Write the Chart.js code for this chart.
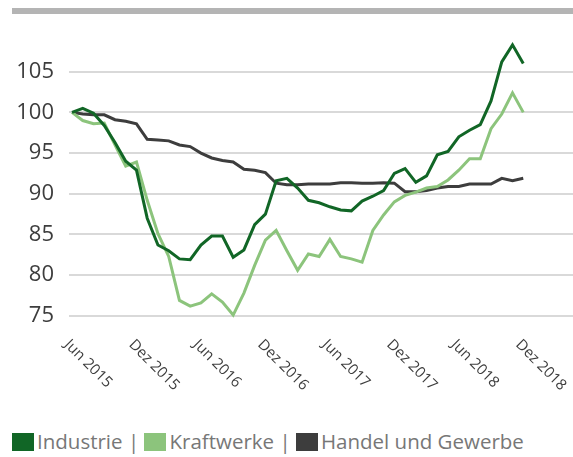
<!DOCTYPE html>
<html>
<head>
<meta charset="utf-8">
<script src="https://cdn.jsdelivr.net/npm/chart.js@4"></script>
<style>
  body { margin: 0; background: #fff; font-family: "Open Sans", sans-serif; }
  #wrap { position: relative; width: 573px; height: 457px; }
  #balken { position: absolute; left: 12px; top: 8px; width: 561px; height: 6px; background: #b4b4b4; }
  #myChart { position: absolute; left: 0; top: 0; }
  #legende { position: absolute; left: 12px; top: 427px; font-size: 20.5px; color: #777; white-space: nowrap; }
  #legende .box { display: inline-block; width: 22px; height: 18px; vertical-align: -2px; margin-right: 3px; }
</style>
</head>
<body>
<div id="wrap">
  <canvas id="myChart" width="573" height="410"></canvas>
  <div id="balken"></div>
  <div id="legende"></div>
</div>
<script>
// Monate Jun 2015 .. Dez 2018 (Index 0..42)
const tickLabels = ["Jun 2015", "Dez 2015", "Jun 2016", "Dez 2016", "Jun 2017", "Dez 2017", "Jun 2018", "Dez 2018"];
const tickMonate = [0, 6, 12, 18, 24, 30, 36, 42];
const yTicks = [75, 80, 85, 90, 95, 100, 105];

const industrie = [100, 100.5, 99.9, 98.4, 96.3, 94.0, 92.9, 87.0, 83.7, 83.0, 82.0, 81.9, 83.7, 84.8, 84.8, 82.2, 83.1, 86.2, 87.5, 91.6, 91.9, 90.7, 89.2, 88.9, 88.4, 88.0, 87.9, 89.1, 89.7, 90.4, 92.5, 93.1, 91.4, 92.2, 94.8, 95.2, 97.0, 97.8, 98.5, 101.4, 106.2, 108.3, 106.0];
const kraftwerke = [100, 99.0, 98.6, 98.7, 96.0, 93.4, 93.9, 89.2, 85.1, 82.3, 76.9, 76.2, 76.6, 77.7, 76.7, 75.1, 77.8, 81.2, 84.3, 85.5, 83.0, 80.6, 82.6, 82.3, 84.4, 82.3, 82.0, 81.6, 85.5, 87.4, 89.0, 89.8, 90.2, 90.7, 90.9, 91.7, 92.9, 94.3, 94.3, 98.0, 99.8, 102.4, 100.0];
const handel = [100, 99.8, 99.7, 99.7, 99.1, 98.9, 98.6, 96.7, 96.6, 96.5, 96.0, 95.8, 95.0, 94.4, 94.1, 93.9, 93.0, 92.9, 92.6, 91.3, 91.1, 91.1, 91.2, 91.2, 91.2, 91.35, 91.35, 91.3, 91.3, 91.35, 91.3, 90.25, 90.25, 90.4, 90.7, 90.9, 90.9, 91.2, 91.2, 91.2, 91.9, 91.6, 91.9];

const serienNamen = ["Industrie", "Kraftwerke", "Handel und Gewerbe"];
const farben = ["#116626", "#8cc47c", "#3d3d3d"];

Chart.defaults.font.family = '"Open Sans", sans-serif';

const ctx = document.getElementById("myChart");

function punkte(werte) {
  return werte.map((wert, i) => ({ x: i, y: wert }));
}

// x-Beschriftung schraeg nach rechts unten
const xLabelsPlugin = {
  id: "xLabels",
  afterDraw(chart) {
    const c = chart.ctx;
    const xs = chart.scales.x;
    c.save();
    c.font = '15px "Open Sans"';
    c.fillStyle = "#3d3d3d";
    c.textAlign = "left";
    c.textBaseline = "top";
    tickMonate.forEach((m, k) => {
      c.save();
      c.translate(xs.getPixelForValue(m), chart.chartArea.bottom + 13);
      c.rotate(Math.PI / 4);
      c.fillText(tickLabels[k], 0, 0);
      c.restore();
    });
    c.restore();
  },
};

new Chart(ctx, {
  type: "line",
  data: {
    datasets: [
      { label: serienNamen[0], data: punkte(industrie), borderColor: farben[0], backgroundColor: farben[0], borderWidth: 3, pointRadius: 0 },
      { label: serienNamen[1], data: punkte(kraftwerke), borderColor: farben[1], backgroundColor: farben[1], borderWidth: 3, pointRadius: 0 },
      { label: serienNamen[2], data: punkte(handel), borderColor: farben[2], backgroundColor: farben[2], borderWidth: 3, pointRadius: 0 },
    ],
  },
  options: {
    responsive: false,
    animation: false,
    devicePixelRatio: 1,
    layout: { padding: { top: 31, bottom: 86, left: 0, right: 0 } },
    plugins: { legend: { display: false }, tooltip: { enabled: false } },
    scales: {
      x: {
        type: "linear",
        min: -0.28,
        max: 46.63,
        display: false,
      },
      y: {
        min: 74,
        max: 110,
        afterFit: (scale) => { scale.width = 69; },
        afterBuildTicks: (scale) => {
          scale.ticks = yTicks.map((v) => ({ value: v }));
        },
        ticks: { padding: 15, color: "#3d3d3d", font: { size: 22 } },
        grid: { color: "#d9d9d9", lineWidth: 2, drawTicks: false },
        border: { display: false },
      },
    },
  },
  plugins: [xLabelsPlugin],
});

// Legende unten
const legende = document.getElementById("legende");
legende.innerHTML = serienNamen
  .map((name, i) => `<span class="box" style="background:${farben[i]}"></span>${name}`)
  .join(" | ");
</script>
</body>
</html>
